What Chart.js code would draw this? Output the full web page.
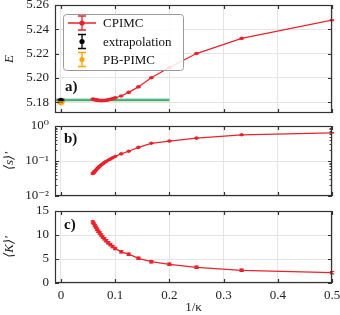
<!DOCTYPE html>
<html><head><meta charset="utf-8">
<script src="https://cdn.jsdelivr.net/npm/chart.js@4"></script>
<style>
html,body{margin:0;padding:0;background:#fff;}
#wrap{position:relative;width:340px;height:315px;overflow:hidden;}
.p{position:absolute;left:0;width:340px;}
</style></head><body>
<div id="wrap">
<div class="p" style="top:0;height:120px"><canvas id="c1"></canvas></div>
<div class="p" style="top:120px;height:80px"><canvas id="c2"></canvas></div>
<div class="p" style="top:200px;height:115px"><canvas id="c3"></canvas></div>
</div>
<script>
// ---- data ----
const invKappa   = [0.5, 0.3333, 0.25, 0.2, 0.1667, 0.1429, 0.125, 0.1111, 0.1, 0.0952, 0.0909, 0.0870, 0.0833, 0.08, 0.0769, 0.0741, 0.0714, 0.0690, 0.0667, 0.0645, 0.0625, 0.0606, 0.0588];
const energy     = [5.2475, 5.2325, 5.2200, 5.2085, 5.2000, 5.1925, 5.1880, 5.1850, 5.1835, 5.1828, 5.1822, 5.1818, 5.1815, 5.1813, 5.1812, 5.1812, 5.1813, 5.1814, 5.1816, 5.1818, 5.1820, 5.1822, 5.1824];
const energyErr  = [0.0004, 0.0004, 0.0004, 0.0004, 0.0004, 0.0004, 0.0004, 0.0004, 0.0005, 0.0005, 0.0005, 0.0005, 0.0005, 0.0005, 0.0005, 0.0005, 0.0005, 0.0005, 0.0005, 0.0005, 0.0005, 0.0005, 0.0005];
const sign       = [0.64, 0.56, 0.45, 0.37, 0.32, 0.245, 0.19, 0.16, 0.135, 0.124, 0.113, 0.105, 0.097, 0.090, 0.083, 0.077, 0.071, 0.065, 0.060, 0.055, 0.051, 0.047, 0.044];
const signErr    = [0.01, 0.01, 0.008, 0.006, 0.005, 0.004, 0.003, 0.003, 0.002, 0.002, 0.002, 0.002, 0.002, 0.002, 0.002, 0.002, 0.002, 0.002, 0.002, 0.002, 0.002, 0.002, 0.002];
const kinetic    = [2.15, 2.65, 3.27, 3.9, 4.45, 5.15, 6.0, 6.5, 7.2, 7.6, 8.0, 8.4, 8.8, 9.2, 9.6, 10.0, 10.4, 10.8, 11.2, 11.6, 12.0, 12.4, 12.7];
const kineticErr = [0.25, 0.25, 0.25, 0.25, 0.25, 0.25, 0.25, 0.25, 0.25, 0.25, 0.25, 0.25, 0.25, 0.25, 0.25, 0.25, 0.25, 0.25, 0.25, 0.25, 0.25, 0.25, 0.25];
const extrapX = [0];   const extrapE = [5.1815]; const extrapErr = [0.0008];
const pbX     = [0];   const pbE     = [5.1795]; const pbErr     = [0.0008];
const refX    = [-0.011, 0.2];
const refBlue = [5.1825, 5.1825];
const refGreen= [5.1815, 5.1815];
const xTicks = [0, 0.1, 0.2, 0.3, 0.4, 0.5];
const eTicks = [5.18, 5.20, 5.22, 5.24, 5.26];
const sTicks = [0.01, 0.1, 1];
const sMinor = [0.02,0.03,0.04,0.05,0.06,0.07,0.08,0.09,0.2,0.3,0.4,0.5,0.6,0.7,0.8,0.9];
const kTicks = [0, 5, 10, 15];
const legendLabels = ['CPIMC', 'extrapolation', 'PB-PIMC'];

const RED = '#e8232b', ORANGE = '#ffa500', BLACK = '#000';
const FONT = '"Liberation Serif", "DejaVu Serif", serif';
const GRID = '#e4e4e4';

function pts(xs, ys) { return xs.map((x, i) => ({x: x, y: ys[i]})); }

function framePlugin(cfg) {
  return {
    id: 'frame',
    afterDatasetsDraw(chart) {
      const ctx = chart.ctx, xs = chart.scales.x, ys = chart.scales.y;
      ctx.save();
      (cfg.errors || []).forEach(eb => {
        ctx.strokeStyle = eb.color; ctx.lineWidth = 1.1;
        eb.x.forEach((xv, i) => {
          const px = xs.getPixelForValue(xv);
          const y1 = ys.getPixelForValue(eb.y[i] - eb.e[i]);
          const y2 = ys.getPixelForValue(eb.y[i] + eb.e[i]);
          ctx.beginPath();
          ctx.moveTo(px, y1); ctx.lineTo(px, y2);
          ctx.moveTo(px - eb.cap, y1); ctx.lineTo(px + eb.cap, y1);
          ctx.moveTo(px - eb.cap, y2); ctx.lineTo(px + eb.cap, y2);
          ctx.stroke();
        });
      });
      ctx.restore();
    },
    afterDraw(chart) {
      const ctx = chart.ctx, a = chart.chartArea, xs = chart.scales.x, ys = chart.scales.y;
      ctx.save();
      ctx.strokeStyle = '#333'; ctx.lineWidth = 1.2;
      ctx.beginPath();
      xTicks.forEach(v => {
        const px = Math.round(xs.getPixelForValue(v)) + 0.5;
        ctx.moveTo(px, a.bottom); ctx.lineTo(px, a.bottom - 4);
        ctx.moveTo(px, a.top); ctx.lineTo(px, a.top + 4);
      });
      cfg.yTicks.forEach(v => {
        const py = Math.round(ys.getPixelForValue(v)) + 0.5;
        ctx.moveTo(a.left, py); ctx.lineTo(a.left + 4, py);
        ctx.moveTo(a.right, py); ctx.lineTo(a.right - 4, py);
      });
      ctx.stroke();
      if (cfg.minor) {
        ctx.lineWidth = 0.9; ctx.beginPath();
        cfg.minor.forEach(v => {
          const py = Math.round(ys.getPixelForValue(v)) + 0.5;
          ctx.moveTo(a.left, py); ctx.lineTo(a.left + 2.5, py);
          ctx.moveTo(a.right, py); ctx.lineTo(a.right - 2.5, py);
        });
        ctx.stroke();
      }
      ctx.lineWidth = 1.2;
      ctx.strokeRect(a.left + 0.5, a.top + 0.5, a.right - a.left - 1, a.bottom - a.top - 1);
      ctx.fillStyle = '#111';
      ctx.font = 'bold 15px ' + FONT;
      ctx.textBaseline = 'alphabetic';
      ctx.fillText(cfg.label, cfg.labelX, cfg.labelY);
      if (cfg.legend) {
        const L = 63, T = 14, W = 120, H = 56;
        ctx.fillStyle = 'rgba(255,255,255,0.85)';
        ctx.strokeStyle = '#9a9a9a'; ctx.lineWidth = 1;
        ctx.beginPath(); ctx.roundRect(L + 0.5, T + 0.5, W, H, 3); ctx.fill(); ctx.stroke();
        const rows = [23, 41.5, 59.5], cols = [RED, BLACK, ORANGE];
        rows.forEach((ry, i) => {
          const c = cols[i], mx = 82;
          ctx.strokeStyle = c; ctx.fillStyle = c; ctx.lineWidth = 1.3;
          ctx.beginPath();
          if (i === 0) { ctx.moveTo(68, ry); ctx.lineTo(96, ry); }
          ctx.moveTo(mx, ry - 7); ctx.lineTo(mx, ry + 7);
          ctx.moveTo(mx - 4, ry - 7); ctx.lineTo(mx + 4, ry - 7);
          ctx.moveTo(mx - 4, ry + 7); ctx.lineTo(mx + 4, ry + 7);
          ctx.stroke();
          ctx.beginPath(); ctx.arc(mx, ry, 2.6, 0, Math.PI * 2); ctx.fill();
          ctx.fillStyle = '#111';
          ctx.font = '13px ' + FONT;
          ctx.textBaseline = 'middle';
          ctx.fillText(legendLabels[i], 103, ry + 1);
        });
      }
      ctx.restore();
    }
  };
}

function xAxis(showLabels, h) {
  return {
    type: 'linear', min: -0.011, max: 0.5,
    afterBuildTicks: s => { s.ticks = xTicks.map(v => ({value: v})); },
    afterFit: s => { s.height = h; s.paddingLeft = 0; s.paddingRight = 0; },
    grid: {color: GRID, drawTicks: false},
    border: {display: false},
    ticks: {display: showLabels, padding: 5, color: '#222', font: {family: FONT, size: 13},
            maxRotation: 0, callback: v => String(v)},
    title: {display: showLabels, text: '1/κ', color: '#222', font: {family: FONT, size: 13}, padding: {top: 0, bottom: 0}}
  };
}
function yFit(s) { s.width = 55; s.paddingTop = 0; s.paddingBottom = 0; }
function yTitle(t) {
  return {display: true, text: t, color: '#222', font: {family: FONT, size: 13, style: 'italic'}, padding: {top: 2, bottom: 0}};
}
const common = {
  responsive: true, maintainAspectRatio: false, animation: false,
  plugins: {legend: {display: false}, tooltip: {enabled: false}}
};

// ---- panel a ----
new Chart(document.getElementById('c1'), {
  type: 'line',
  data: {datasets: [
    {data: pts(invKappa, energy), borderColor: RED, backgroundColor: RED, borderWidth: 1.3, pointRadius: 1.8, pointBorderWidth: 0, tension: 0},
    {data: pts(extrapX, extrapE), showLine: false, pointRadius: 2.6, pointBorderWidth: 0, backgroundColor: BLACK, borderColor: BLACK},
    {data: pts(pbX, pbE), showLine: false, pointRadius: 2.6, pointBorderWidth: 0, backgroundColor: ORANGE, borderColor: ORANGE},
    {data: pts(refX, refGreen), borderColor: '#3fae5a', borderWidth: 2, pointRadius: 0},
    {data: pts(refX, refBlue), borderColor: '#7ab3e0', borderWidth: 1, pointRadius: 0}
  ]},
  options: Object.assign({}, common, {
    layout: {padding: {top: 5, right: 8, left: 0, bottom: 0}},
    scales: {
      x: xAxis(false, 7),
      y: {type: 'linear', min: 5.171, max: 5.26,
          afterBuildTicks: s => { s.ticks = eTicks.map(v => ({value: v})); },
          afterFit: yFit,
          grid: {color: GRID, drawTicks: false}, border: {display: false},
          ticks: {padding: 6, color: '#222', font: {family: FONT, size: 13}, callback: v => v.toFixed(2)},
          title: yTitle('E')}
    }
  }),
  plugins: [framePlugin({yTicks: eTicks, label: 'a)', labelX: 65, labelY: 91, legend: true,
    errors: [
      {x: invKappa, y: energy, e: energyErr, color: RED, cap: 2.2},
      {x: extrapX, y: extrapE, e: extrapErr, color: BLACK, cap: 3.5},
      {x: pbX, y: pbE, e: pbErr, color: ORANGE, cap: 3.5}
    ]})]
});

// ---- panel b ----
const supMap = {'-': '⁻', '0': '⁰', '1': '¹', '2': '²'};
new Chart(document.getElementById('c2'), {
  type: 'line',
  data: {datasets: [
    {data: pts(invKappa, sign), borderColor: RED, backgroundColor: RED, borderWidth: 1.3, pointRadius: 1.8, pointBorderWidth: 0, tension: 0}
  ]},
  options: Object.assign({}, common, {
    layout: {padding: {top: 6, right: 8, left: 0, bottom: 0}},
    scales: {
      x: xAxis(false, 1),
      y: {type: 'logarithmic', min: 0.01, max: 1,
          afterBuildTicks: s => { s.ticks = sTicks.map(v => ({value: v})); },
          afterFit: yFit,
          grid: {color: GRID, drawTicks: false}, border: {display: false},
          ticks: {padding: 6, color: '#222', font: {family: FONT, size: 13},
                  callback: v => '10' + String(Math.round(Math.log10(v))).split('').map(c => supMap[c]).join('')},
          title: yTitle('⟨s⟩′')}
    }
  }),
  plugins: [framePlugin({yTicks: sTicks, minor: sMinor, label: 'b)', labelX: 64, labelY: 23,
    errors: [{x: invKappa, y: sign, e: signErr, color: RED, cap: 2.2}]})]
});

// ---- panel c ----
new Chart(document.getElementById('c3'), {
  type: 'line',
  data: {datasets: [
    {data: pts(invKappa, kinetic), borderColor: RED, backgroundColor: RED, borderWidth: 1.3, pointRadius: 1.8, pointBorderWidth: 0, tension: 0}
  ]},
  options: Object.assign({}, common, {
    layout: {padding: {top: 11, right: 8, left: 0, bottom: 0}},
    scales: {
      x: xAxis(true, 32),
      y: {type: 'linear', min: 0, max: 15,
          afterBuildTicks: s => { s.ticks = kTicks.map(v => ({value: v})); },
          afterFit: yFit,
          grid: {color: GRID, drawTicks: false}, border: {display: false},
          ticks: {padding: 6, color: '#222', font: {family: FONT, size: 13}, callback: v => String(v)},
          title: yTitle('⟨K⟩′')}
    }
  }),
  plugins: [framePlugin({yTicks: kTicks, label: 'c)', labelX: 64, labelY: 29,
    errors: [{x: invKappa, y: kinetic, e: kineticErr, color: RED, cap: 2.2}]})]
});
</script>
</body></html>
